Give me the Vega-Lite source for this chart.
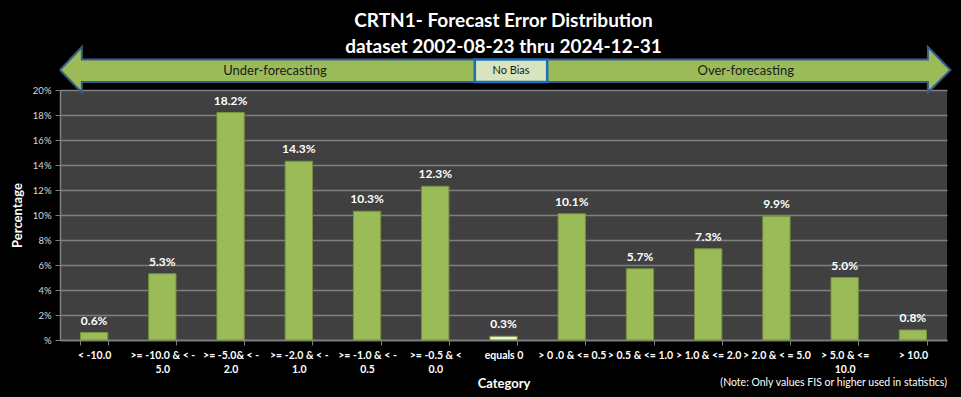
{
  "$schema": "https://vega.github.io/schema/vega-lite/v6.json",
  "width": 887,
  "height": 250,
  "autosize": "none",
  "padding": {"left": 60, "top": 90, "right": 14, "bottom": 57},
  "background": "#000000",
  "config": {
    "view": {"fill": "#404040", "stroke": null},
    "font": "Lato"
  },
  "title": {
    "text": ["CRTN1- Forecast Error Distribution", "dataset 2002-08-23  thru 2024-12-31"],
    "font": "Lato",
    "fontSize": 19,
    "fontWeight": "bold",
    "color": "#ffffff",
    "lineHeight": 26,
    "anchor": "middle",
    "offset": -14
  },
  "datasets": {
    "bars": [
      {"cat": "< -10.0", "pct": 0.006},
      {"cat": ">= -10.0 & < -|5.0", "pct": 0.053},
      {"cat": ">= -5.0& < -|2.0", "pct": 0.182},
      {"cat": ">= -2.0 & < -|1.0", "pct": 0.143},
      {"cat": ">= -1.0 & < -|0.5", "pct": 0.103},
      {"cat": ">= -0.5 & <|0.0", "pct": 0.123},
      {"cat": "equals 0", "pct": 0.003},
      {"cat": "> 0 .0 & <= 0.5", "pct": 0.101},
      {"cat": "> 0.5 & <= 1.0", "pct": 0.057},
      {"cat": "> 1.0 & <= 2.0", "pct": 0.073},
      {"cat": "> 2.0 & < = 5.0", "pct": 0.099},
      {"cat": "> 5.0 & <=|10.0", "pct": 0.05},
      {"cat": "> 10.0", "pct": 0.008}
    ],
    "arrows": [
      {"shape": "left", "i": 1, "x": 0, "y": 0.216},
      {"shape": "left", "i": 2, "x": 0.32, "y": 0.2344},
      {"shape": "left", "i": 3, "x": 0.32, "y": 0.2245},
      {"shape": "left", "i": 4, "x": 6.08, "y": 0.2245},
      {"shape": "left", "i": 5, "x": 6.08, "y": 0.2065},
      {"shape": "left", "i": 6, "x": 0.32, "y": 0.2065},
      {"shape": "left", "i": 7, "x": 0.32, "y": 0.198},
      {"shape": "left", "i": 8, "x": 0, "y": 0.216},
      {"shape": "right", "i": 1, "x": 7.14, "y": 0.2245},
      {"shape": "right", "i": 2, "x": 12.72, "y": 0.2245},
      {"shape": "right", "i": 3, "x": 12.72, "y": 0.2344},
      {"shape": "right", "i": 4, "x": 13.05, "y": 0.216},
      {"shape": "right", "i": 5, "x": 12.72, "y": 0.198},
      {"shape": "right", "i": 6, "x": 12.72, "y": 0.2065},
      {"shape": "right", "i": 7, "x": 7.14, "y": 0.2065},
      {"shape": "right", "i": 8, "x": 7.14, "y": 0.2245}
    ],
    "box": [{"x1": 6.08, "x2": 7.14, "y1": 0.2065, "y2": 0.2245, "label": "No Bias", "xc": 6.61, "yc": 0.2155}],
    "arrowText": [
      {"label": "Under-forecasting", "x": 3.15, "y": 0.2155},
      {"label": "Over-forecasting", "x": 10.05, "y": 0.2155}
    ],
    "note": [{"label": "(Note: Only values FIS or higher used in statistics)", "x": 13, "y": -0.0345}]
  },
  "layer": [
    {
      "data": {"name": "bars"},
      "encoding": {
        "x": {
          "field": "cat",
          "type": "nominal",
          "sort": null,
          "scale": {"paddingInner": 0.6, "paddingOuter": 0.3},
          "axis": {
            "title": "Category",
            "titleColor": "#ffffff",
            "titleFont": "Lato",
            "titleFontSize": 13,
            "titleFontWeight": "bold",
            "titlePadding": 3,
            "labelExpr": "datum.value == null ? '' : split(datum.value, '|')",
            "labelAngle": 0,
            "labelColor": "#ffffff",
            "labelFont": "Lato",
            "labelFontSize": 10.5,
            "labelFontWeight": "bold",
            "labelLineHeight": 14,
            "labelPadding": 5,
            "labelLimit": 200,
            "labelBaseline": "top",
            "tickBand": "extent",
            "tickColor": "#808080",
            "tickSize": 5,
            "tickWidth": 1,
            "domainColor": "#808080",
            "domainWidth": 1.5,
            "grid": false
          }
        },
        "y": {
          "field": "pct",
          "type": "quantitative",
          "scale": {"domain": [0, 0.2], "nice": false},
          "axis": {
            "title": "Percentage",
            "titleColor": "#ffffff",
            "titleFont": "Lato",
            "titleFontSize": 13,
            "titleFontWeight": "bold",
            "titlePadding": 8,
            "values": [0, 0.02, 0.04, 0.06, 0.08, 0.1, 0.12, 0.14, 0.16, 0.18, 0.2],
            "labelExpr": "datum.value === 0 ? '%' : format(datum.value, '.0%')",
            "labelOverlap": false,
            "labelColor": "#d9d9d9",
            "labelFont": "Lato",
            "labelFontSize": 9.5,
            "labelPadding": 4,
            "tickColor": "#808080",
            "tickSize": 5,
            "domainColor": "#808080",
            "domainWidth": 1.5,
            "grid": true,
            "gridColor": "#7f7f7f",
            "gridWidth": 1.3
          }
        }
      },
      "layer": [
        {
          "mark": {"type": "bar", "stroke": "#76923c", "strokeWidth": 1},
          "encoding": {
            "color": {
              "condition": {"test": "datum.cat === 'equals 0'", "value": "#ebf1de"},
              "value": "#9bbb59"
            }
          }
        },
        {
          "mark": {"type": "text", "baseline": "bottom", "dy": -5, "color": "#ffffff", "font": "Lato", "fontSize": 12, "fontWeight": "bold"},
          "encoding": {
            "text": {"field": "pct", "type": "quantitative", "format": ".1%"}
          }
        }
      ]
    },
    {
      "layer": [
        {
          "data": {"name": "arrows"},
          "mark": {"type": "line", "fill": "#9bbb59", "stroke": "#385d8a", "strokeWidth": 2, "strokeJoin": "miter"},
          "encoding": {
            "x": {"field": "x", "type": "quantitative", "scale": {"domain": [0, 13], "nice": false, "zero": false}, "axis": null},
            "y": {"field": "y", "type": "quantitative", "scale": {"domain": [0, 0.2], "nice": false}, "axis": null},
            "detail": {"field": "shape"},
            "order": {"field": "i"}
          }
        },
        {
          "data": {"name": "box"},
          "mark": {"type": "rect", "fill": "#d7e4bd", "stroke": "#1f6fb5", "strokeWidth": 2.5},
          "encoding": {
            "x": {"field": "x1", "type": "quantitative", "scale": {"domain": [0, 13], "nice": false, "zero": false}, "axis": null},
            "x2": {"field": "x2"},
            "y": {"field": "y1", "type": "quantitative", "scale": {"domain": [0, 0.2], "nice": false}, "axis": null},
            "y2": {"field": "y2"}
          }
        },
        {
          "data": {"name": "box"},
          "mark": {"type": "text", "color": "#1a1a1a", "font": "Lato", "fontSize": 11, "baseline": "middle"},
          "encoding": {
            "x": {"field": "xc", "type": "quantitative", "scale": {"domain": [0, 13], "nice": false, "zero": false}, "axis": null},
            "y": {"field": "yc", "type": "quantitative", "scale": {"domain": [0, 0.2], "nice": false}, "axis": null},
            "text": {"field": "label"}
          }
        },
        {
          "data": {"name": "arrowText"},
          "mark": {"type": "text", "color": "#1a1a1a", "font": "Lato", "fontSize": 13, "baseline": "middle"},
          "encoding": {
            "x": {"field": "x", "type": "quantitative", "scale": {"domain": [0, 13], "nice": false, "zero": false}, "axis": null},
            "y": {"field": "y", "type": "quantitative", "scale": {"domain": [0, 0.2], "nice": false}, "axis": null},
            "text": {"field": "label"}
          }
        },
        {
          "data": {"name": "note"},
          "mark": {"type": "text", "color": "#ffffff", "font": "Lato", "fontSize": 10.5, "align": "right", "baseline": "middle"},
          "encoding": {
            "x": {"field": "x", "type": "quantitative", "scale": {"domain": [0, 13], "nice": false, "zero": false}, "axis": null},
            "y": {"field": "y", "type": "quantitative", "scale": {"domain": [0, 0.2], "nice": false}, "axis": null},
            "text": {"field": "label"}
          }
        }
      ]
    }
  ],
  "resolve": {"scale": {"x": "independent", "y": "independent"}, "axis": {"x": "independent", "y": "independent"}}
}
